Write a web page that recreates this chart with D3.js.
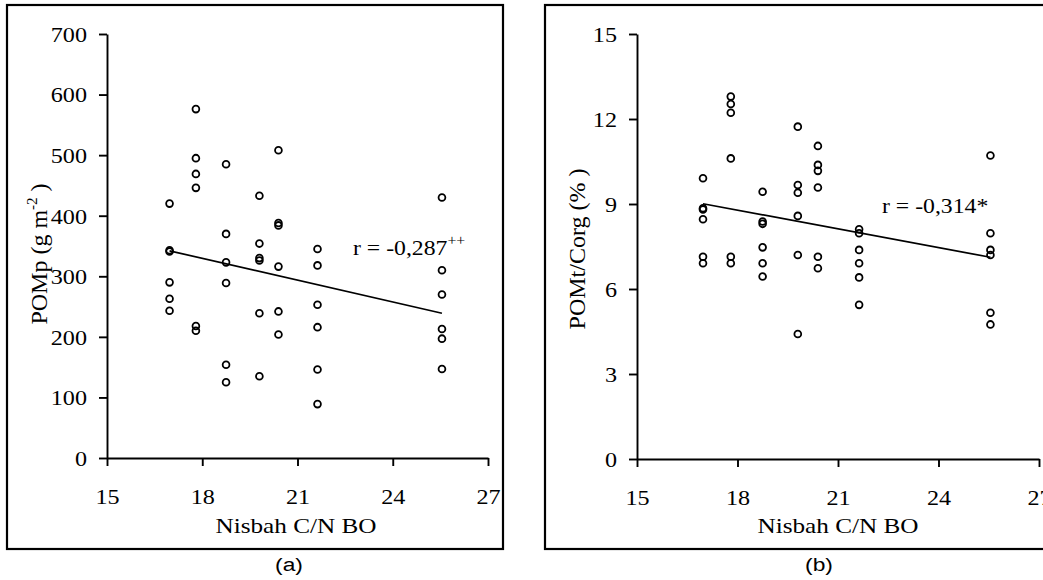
<!DOCTYPE html>
<html>
<head>
<meta charset="utf-8">
<script src="https://cdn.jsdelivr.net/npm/d3@7"></script>
<style>
  body { margin: 0; background: #fff; }
  svg { display: block; }
  text { font-family: "Liberation Serif", "Times New Roman", serif; fill: #000; }
</style>
</head>
<body>
<svg id="chart" width="1043" height="580"></svg>
<script>
// Nisbah C/N BO (x) - satu kolom per lokasi
const cnRatio = [16.97, 17.8, 18.75, 19.8, 20.4, 21.63, 25.55];

// (a) POMp (g m-2), 6 ulangan per kolom
const pompValues = [
  [420, 343, 341, 290, 263, 243],
  [576, 495, 469, 446, 218, 210],
  [485, 370, 323, 289, 154, 125],
  [433, 354, 330, 326, 239, 135],
  [508, 388, 384, 316, 242, 204],
  [345, 318, 253, 216, 146, 89],
  [430, 310, 270, 213, 197, 147]
];

// (b) POMt/Corg (%)
const pomtValues = [
  [9.91, 8.85, 8.81, 8.46, 7.14, 6.91],
  [12.79, 12.53, 12.22, 10.61, 7.14, 6.91],
  [9.43, 8.38, 8.30, 7.47, 6.91, 6.44],
  [11.73, 9.67, 9.40, 8.58, 7.20, 4.41],
  [11.05, 10.38, 10.17, 9.58, 7.14, 6.73],
  [8.11, 7.97, 7.38, 6.91, 6.41, 5.44],
  [10.71, 7.97, 7.38, 7.20, 5.16, 4.75]
];

// garis regresi (titik awal dan akhir)
const fitA = [[16.97, 342], [25.55, 239]];
const fitB = [[16.97, 9.01], [25.55, 7.12]];

const xTicks = [15, 18, 21, 24, 27];
const yTicksA = [0, 100, 200, 300, 400, 500, 600, 700];
const yTicksB = [0, 3, 6, 9, 12, 15];

const svg = d3.select("#chart");

// teks sedikit melebar seperti di gambar asli
function stretch(sel, sx) {
  sel.each(function() {
    const t = d3.select(this);
    const x = +t.attr("x") || 0, y = +t.attr("y") || 0;
    t.attr("x", null).attr("y", null)
      .attr("transform", `translate(${x},${y}) scale(${sx},1)`);
  });
}

function panel(opt) {
  const g = svg.append("g");

  g.append("rect")
    .attr("x", opt.frame[0]).attr("y", opt.frame[1])
    .attr("width", opt.frame[2]).attr("height", opt.frame[3])
    .attr("fill", "none").attr("stroke", "#000").attr("stroke-width", 2.2);

  const x = d3.scaleLinear().domain([15, 27]).range(opt.xr);
  const y = d3.scaleLinear().domain(opt.yDomain).range(opt.yr);

  const gx = g.append("g")
    .attr("transform", `translate(0,${opt.yr[0]})`)
    .call(d3.axisBottom(x).tickValues(xTicks).tickSize(8).tickSizeOuter(0));
  const gy = g.append("g")
    .attr("transform", `translate(${opt.xr[0]},0)`)
    .call(d3.axisLeft(y).tickValues(opt.yTicks).tickSize(8).tickSizeOuter(0));

  [gx, gy].forEach(a => {
    a.select(".domain").attr("stroke", "#000").attr("stroke-width", 1.9);
    a.selectAll(".tick line").attr("stroke", "#000").attr("stroke-width", 1.9);
  });

  gx.selectAll(".tick text")
    .attr("font-size", 21)
    .attr("y", 46).attr("dy", null);
  stretch(gx.selectAll(".tick text"), 1.15);

  gy.selectAll(".tick text")
    .attr("font-size", 21)
    .attr("x", -20).attr("dy", "0.35em");
  stretch(gy.selectAll(".tick text"), 1.15);

  // titik data
  const pts = [];
  opt.values.forEach((col, i) => col.forEach(v => pts.push([cnRatio[i], v])));
  g.selectAll("circle.pt")
    .data(pts)
    .enter()
    .append("circle")
    .attr("class", "pt")
    .attr("cx", d => x(d[0]))
    .attr("cy", d => y(d[1]))
    .attr("r", 3.4)
    .attr("fill", "none")
    .attr("stroke", "#000")
    .attr("stroke-width", 1.8);

  g.append("path")
    .datum(opt.fit)
    .attr("d", d3.line().x(d => x(d[0])).y(d => y(d[1])))
    .attr("fill", "none").attr("stroke", "#000").attr("stroke-width", 1.7);

  // label r
  const r = g.append("text")
    .attr("x", opt.rPos[0]).attr("y", opt.rPos[1])
    .attr("font-size", 21);
  r.append("tspan").text(opt.rText);
  if (opt.rSup) {
    r.append("tspan").attr("font-size", 14).attr("dy", -10).text(opt.rSup);
  }
  stretch(r, 1.13);

  // judul sumbu x
  const xt = g.append("text")
    .attr("x", opt.xTitle[0]).attr("y", opt.xTitle[1])
    .attr("text-anchor", "middle").attr("font-size", 21)
    .text("Nisbah C/N BO");
  stretch(xt, 1.2);

  // judul sumbu y
  const yt = g.append("text")
    .attr("transform", `translate(${opt.yTitle[0]},${opt.yTitle[1]}) rotate(-90)`)
    .attr("text-anchor", "middle").attr("font-size", 24);
  opt.yTitleParts(yt);

  // (a) / (b)
  const lab = g.append("text")
    .attr("x", opt.tag[0]).attr("y", opt.tag[1])
    .attr("text-anchor", "middle")
    .attr("font-size", 19)
    .style("font-family", "'Liberation Sans', Arial, sans-serif")
    .text(opt.tagText);
  stretch(lab, 1.2);
}

panel({
  frame: [7, 5, 496, 544],
  xr: [107, 488], yr: [458, 34], yDomain: [0, 700], yTicks: yTicksA,
  values: pompValues, fit: fitA,
  rText: "r = -0,287", rSup: "++", rPos: [353, 255],
  xTitle: [296, 533], yTitle: [47, 254],
  yTitleParts: t => {
    t.append("tspan").text("POMp (g m");
    t.append("tspan").attr("font-size", 15).attr("dy", -10).text("-2");
    t.append("tspan").attr("dy", 10).text(" )");
  },
  tag: [289, 571], tagText: "(a)"
});

panel({
  frame: [545, 5, 520, 544],
  xr: [637, 1039], yr: [459, 34], yDomain: [0, 15], yTicks: yTicksB,
  values: pomtValues, fit: fitB,
  rText: "r = -0,314*", rSup: null, rPos: [882, 213],
  xTitle: [838, 533], yTitle: [585, 249],
  yTitleParts: t => { t.text("POMt/Corg (% )"); },
  tag: [819, 571], tagText: "(b)"
});
</script>
</body>
</html>
